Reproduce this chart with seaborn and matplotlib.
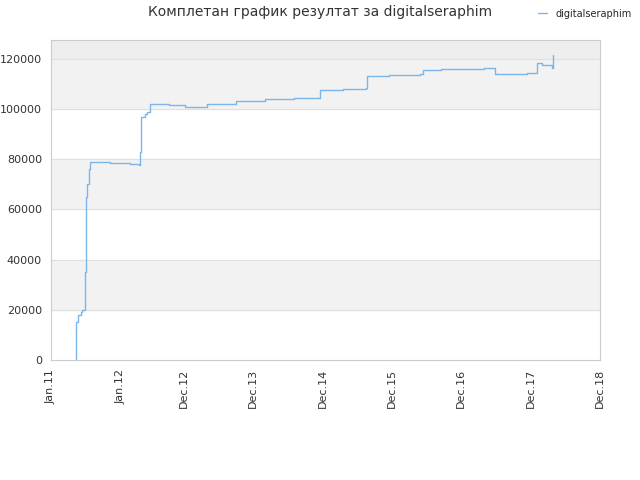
import matplotlib
matplotlib.use("Agg")
import matplotlib.pyplot as plt
import seaborn as sns
import pandas as pd

months = [4.3, 4.35, 4.6, 5.2, 5.4, 5.8, 5.9, 6.0, 6.1, 6.3, 6.5, 6.7, 8.0, 10.2, 13.7, 15.2, 15.35, 15.5, 16.2, 16.6, 17.1, 20.5, 23.2, 27.0, 32.0, 37.0, 42.0, 46.5, 46.6, 50.6, 54.5, 54.6, 58.5, 63.8, 64.4, 67.4, 74.9, 76.8, 79.5, 82.4, 84.1, 85.0, 86.7, 86.8]
values = [0, 15000, 18000, 19000, 20000, 30000, 35000, 55000, 65000, 70000, 76000, 79000, 79000, 78500, 78000, 77500, 83000, 97000, 98000, 99000, 102000, 101500, 101000, 102000, 103000, 104000, 104500, 105000, 107500, 108000, 108500, 113000, 113500, 114000, 115500, 116000, 116500, 114000, 114000, 114500, 118500, 117500, 116500, 121500]
tick_pos = [0, 12, 23, 35, 47, 59, 71, 83, 95]
tick_labels = ["Jan.11", "Jan.12", "Dec.12", "Dec.13", "Dec.14", "Dec.15", "Dec.16", "Dec.17", "Dec.18"]

df = pd.DataFrame({"m": months, "v": values})
sns.set_style("white")
fig = plt.figure(figsize=(6.4, 4.8), dpi=100)
ax = fig.add_axes([51/640, 1-360/480, 549/640, 320/480])
ymax = 127500
for lo in [20000, 60000, 100000]:
    ax.axhspan(lo, lo+20000, color="#f2f2f2", zorder=0)
ax.axhspan(120000, ymax, color="#eeeeee", zorder=0)
for y in range(20000, 120001, 20000):
    ax.axhline(y, color="#e0e0e0", lw=0.8, zorder=0.5)
sns.lineplot(data=df, x="m", y="v", ax=ax, drawstyle="steps-post", color="#7cb5ec", lw=1, label="digitalseraphim")
ax.set_xlim(0, 95)
ax.set_ylim(0, ymax)
ax.set_xticks(tick_pos)
ax.set_xticklabels(tick_labels, rotation=90, fontsize=8, color="#333333")
ax.set_yticks(range(0, 120001, 20000))
ax.set_yticklabels([str(v) for v in range(0, 120001, 20000)], fontsize=8, color="#333333")
ax.set_xlabel(""); ax.set_ylabel("")
for s in ax.spines.values():
    s.set_color("#cccccc")
ax.tick_params(length=3, color="#cccccc")
fig.text(0.5, 1-12/480, "Комплетан график резултат за digitalseraphim", ha="center", va="center", fontsize=10, color="#333333")
fig.legend(*ax.get_legend_handles_labels(), loc="upper right", bbox_to_anchor=(1.0, 1.0), frameon=False, fontsize=7, handlelength=1)
ax.get_legend().remove()
fig.savefig("out.png", dpi=100)
